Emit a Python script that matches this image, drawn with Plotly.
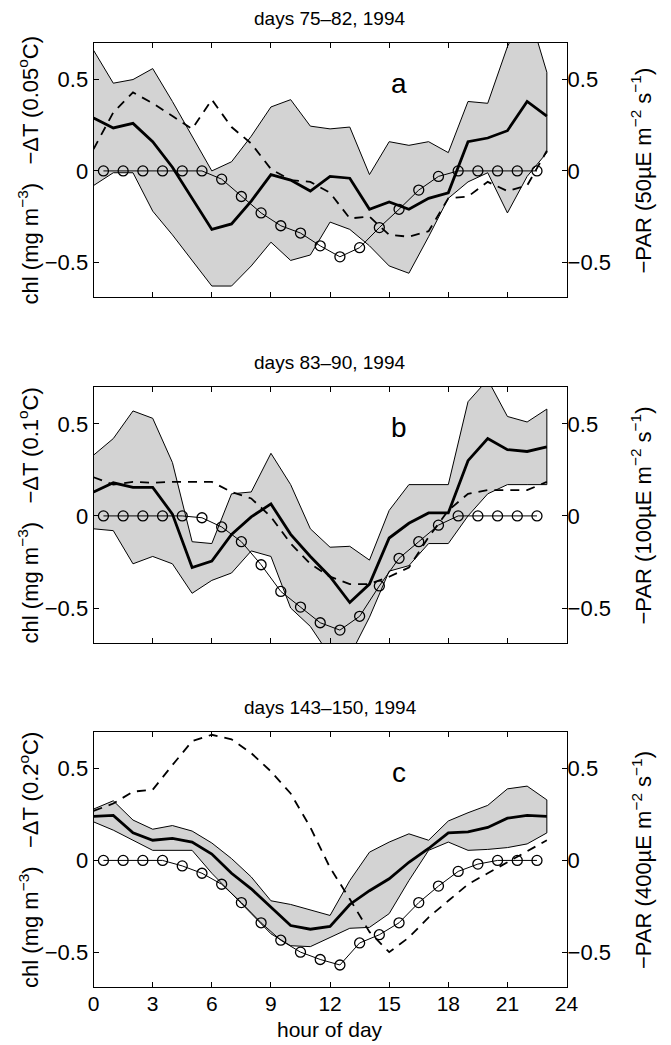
import plotly.graph_objects as go

# ---------------- data ----------------
hours = [0, 1, 2, 3, 4, 5, 6, 7, 8, 9, 10, 11, 12, 13, 14, 15, 16, 17, 18, 19, 20, 21, 22, 23]
par_hours = [0.5, 1.5, 2.5, 3.5, 4.5, 5.5, 6.5, 7.5, 8.5, 9.5, 10.5, 11.5,
             12.5, 13.5, 14.5, 15.5, 16.5, 17.5, 18.5, 19.5, 20.5, 21.5, 22.5]
x_ticks = [0, 3, 6, 9, 12, 15, 18, 21, 24]
y_ticks = [-0.5, 0, 0.5]
y_tick_text = ["\u22120.5", "0", "0.5"]

titles = ["days 75\u201382, 1994", "days 83\u201390, 1994", "days 143\u2013150, 1994"]
letters = ["a", "b", "c"]
left_titles = ["chl (mg m<sup>\u22123</sup>)   \u2212\u0394T (0.05<sup>o</sup>C)",
               "chl (mg m<sup>\u22123</sup>)   \u2212\u0394T (0.1<sup>o</sup>C)",
               "chl (mg m<sup>\u22123</sup>)   \u2212\u0394T (0.2<sup>o</sup>C)"]
right_titles = ["\u2212PAR (50\u00b5E m<sup>\u22122</sup> s<sup>\u22121</sup>)",
                "\u2212PAR (100\u00b5E m<sup>\u22122</sup> s<sup>\u22121</sup>)",
                "\u2212PAR (400\u00b5E m<sup>\u22122</sup> s<sup>\u22121</sup>)"]

# panel a
upper_a = [0.66, 0.48, 0.50, 0.56, 0.38, 0.19, 0.00, 0.05, 0.19, 0.35, 0.39, 0.245,
           0.23, 0.24, -0.02, 0.16, 0.14, 0.16, 0.10, 0.38, 0.37, 0.68, 0.90, 0.54]
lower_a = [-0.08, -0.01, -0.01, -0.22, -0.35, -0.49, -0.63, -0.63, -0.52, -0.39, -0.49, -0.46,
           -0.28, -0.32, -0.41, -0.52, -0.56, -0.36, -0.15, -0.06, -0.01, -0.23, -0.03, 0.10]
chl_a = [0.29, 0.235, 0.26, 0.16, 0.02, -0.15, -0.32, -0.29, -0.165, -0.02, -0.05, -0.11,
         -0.03, -0.04, -0.21, -0.17, -0.21, -0.15, -0.12, 0.16, 0.18, 0.22, 0.38, 0.30]
dT_a = [0.12, 0.32, 0.43, 0.37, 0.30, 0.23, 0.39, 0.24, 0.15, 0.01, -0.05, -0.06,
        -0.12, -0.26, -0.25, -0.35, -0.36, -0.33, -0.15, -0.14, -0.06, -0.11, -0.08, 0.11]
par_a = [0, 0, 0, 0, 0, 0, -0.045, -0.14, -0.23, -0.30, -0.34, -0.41,
         -0.47, -0.42, -0.31, -0.21, -0.105, -0.03, 0, 0, 0, 0, 0]

# panel b
upper_b = [0.33, 0.42, 0.57, 0.53, 0.29, -0.14, -0.15, 0.12, 0.13, 0.34, 0.17, -0.07,
           -0.17, -0.165, -0.24, 0.03, 0.17, 0.17, 0.17, 0.62, 0.74, 0.54, 0.51, 0.58]
lower_b = [-0.07, -0.08, -0.26, -0.22, -0.26, -0.42, -0.35, -0.31, -0.19, -0.22, -0.50, -0.60,
           -0.76, -0.76, -0.55, -0.30, -0.27, -0.15, -0.15, 0.00, 0.12, 0.17, 0.17, 0.17]
chl_b = [0.13, 0.18, 0.155, 0.155, 0.01, -0.28, -0.245, -0.10, -0.005, 0.065, -0.10, -0.22,
         -0.33, -0.47, -0.37, -0.12, -0.04, 0.016, 0.016, 0.30, 0.42, 0.36, 0.35, 0.375]
dT_b = [0.21, 0.17, 0.185, 0.18, 0.185, 0.185, 0.185, 0.13, 0.095, -0.005, -0.15, -0.26,
        -0.33, -0.37, -0.37, -0.33, -0.28, -0.115, 0.03, 0.12, 0.14, 0.14, 0.14, 0.185]
par_b = [0, 0, 0, 0, 0, -0.01, -0.06, -0.14, -0.265, -0.41, -0.495, -0.58,
         -0.62, -0.545, -0.38, -0.23, -0.14, -0.05, 0, 0, 0, 0, 0]

# panel c
upper_c = [0.28, 0.325, 0.22, 0.17, 0.19, 0.16, 0.095, 0.01, -0.09, -0.22, -0.24, -0.27,
           -0.30, -0.11, 0.045, 0.10, 0.145, 0.11, 0.215, 0.26, 0.30, 0.39, 0.405, 0.33]
lower_c = [0.21, 0.165, 0.11, 0.055, 0.055, 0.055, -0.07, -0.18, -0.29, -0.40, -0.465, -0.47,
           -0.42, -0.37, -0.365, -0.29, -0.11, 0.055, 0.10, 0.055, 0.06, 0.07, 0.09, 0.15]
chl_c = [0.24, 0.245, 0.15, 0.11, 0.12, 0.10, 0.035, -0.07, -0.155, -0.255, -0.355, -0.375,
         -0.36, -0.24, -0.165, -0.10, -0.01, 0.065, 0.15, 0.155, 0.18, 0.23, 0.245, 0.24]
dT_c = [0.27, 0.31, 0.375, 0.385, 0.52, 0.65, 0.685, 0.66, 0.585, 0.485, 0.365, 0.18,
        -0.04, -0.21, -0.39, -0.50, -0.42, -0.31, -0.22, -0.13, -0.07, -0.01, 0.05, 0.11]
par_c = [0, 0, 0, 0, -0.03, -0.07, -0.13, -0.23, -0.34, -0.435, -0.50, -0.54,
         -0.57, -0.45, -0.405, -0.34, -0.23, -0.14, -0.06, -0.02, 0, 0, 0]

panels = [
    (upper_a, lower_a, chl_a, dT_a, par_a),
    (upper_b, lower_b, chl_b, dT_b, par_b),
    (upper_c, lower_c, chl_c, dT_c, par_c),
]

# ---------------- layout geometry ----------------
W, H = 671, 1045
x0_px, x1_px = 90, 576
panel_px = [(43, 297), (387, 643), (732, 987)]
y_range = [-0.69, 0.70]
FONT = "Liberation Sans, Arial, Helvetica, sans-serif"
TICK_SIZE = 22
AXT_SIZE = 22

fig = go.Figure()
layout = dict(
    width=W, height=H,
    margin=dict(l=0, r=0, t=0, b=0),
    paper_bgcolor="white", plot_bgcolor="white",
    showlegend=False,
    font=dict(family=FONT, size=20, color="black"),
)
annotations = []

for i, (up, lo, chl, dT, par) in enumerate(panels):
    n = i + 1
    xa = "x" if n == 1 else f"x{n}"
    ya = "y" if n == 1 else f"y{n}"
    yr = f"y{n + 3}"
    top, bot = panel_px[i]
    dom_y = [1 - bot / H, 1 - top / H]

    # band
    fig.add_trace(go.Scatter(
        x=hours + hours[::-1], y=up + lo[::-1],
        fill="toself", fillcolor="rgb(211,211,211)",
        line=dict(color="black", width=1),
        mode="lines", xaxis=xa, yaxis=ya, hoverinfo="skip"))
    # thick chl line
    fig.add_trace(go.Scatter(
        x=hours, y=chl, mode="lines",
        line=dict(color="black", width=2.8),
        xaxis=xa, yaxis=ya))
    # dashed -dT line
    fig.add_trace(go.Scatter(
        x=hours, y=dT, mode="lines",
        line=dict(color="black", width=1.8, dash="9px,7px"),
        xaxis=xa, yaxis=ya))
    # PAR with circles (right axis)
    fig.add_trace(go.Scatter(
        x=par_hours, y=par, mode="lines+markers",
        line=dict(color="black", width=1),
        marker=dict(symbol="circle-open", size=10, color="black",
                    line=dict(width=1.3, color="black")),
        xaxis=xa, yaxis=yr))

    xkey = "xaxis" if n == 1 else f"xaxis{n}"
    ykey = "yaxis" if n == 1 else f"yaxis{n}"
    layout[xkey] = dict(
        domain=[x0_px / W, x1_px / W], range=[0, 24], anchor=ya,
        tickvals=x_ticks, showticklabels=(n == 3),
        ticks="inside", ticklen=5, tickcolor="black", tickwidth=1,
        showline=True, linecolor="black", linewidth=1, mirror="ticks",
        showgrid=False, zeroline=False,
        ticklabelposition="outside", ticklabelstandoff=-2,
        tickfont=dict(size=21, family=FONT),
    )
    layout[ykey] = dict(
        domain=dom_y, range=y_range, anchor=xa,
        tickvals=y_ticks, ticktext=y_tick_text,
        ticks="inside", ticklen=5, tickcolor="black", tickwidth=1,
        showline=True, linecolor="black", linewidth=1, mirror="ticks",
        showgrid=False, zeroline=False,
        tickfont=dict(size=TICK_SIZE, family=FONT),
    )
    layout[f"yaxis{n + 3}"] = dict(
        domain=dom_y, range=y_range, anchor=xa, overlaying=ya, side="right",
        tickvals=y_ticks, ticktext=y_tick_text,
        ticks="", showline=False, showgrid=False, zeroline=False,
        tickfont=dict(size=TICK_SIZE, family=FONT),
    )

    mid = 1 - (top + bot) / 2 / H
    annotations.append(dict(
        text=titles[i], xref="paper", yref="paper",
        x=(x0_px + x1_px) / 2 / W, y=1 - (top - 25) / H,
        xanchor="center", yanchor="middle", showarrow=False,
        font=dict(size=19, family=FONT)))
    annotations.append(dict(
        text=letters[i], xref=xa, yref=ya, x=15.5, y=0.48,
        xanchor="center", yanchor="middle", showarrow=False,
        font=dict(size=28, family=FONT)))
    annotations.append(dict(
        text=left_titles[i], xref="paper", yref="paper",
        x=23 / W, y=mid, textangle=-90,
        xanchor="center", yanchor="middle", showarrow=False,
        font=dict(size=AXT_SIZE, family=FONT)))
    annotations.append(dict(
        text=right_titles[i], xref="paper", yref="paper",
        x=653 / W, y=mid, textangle=-90,
        xanchor="center", yanchor="middle", showarrow=False,
        font=dict(size=AXT_SIZE, family=FONT)))

annotations.append(dict(
    text="hour of day", xref="paper", yref="paper",
    x=(x0_px + x1_px) / 2 / W, y=1 - 1029 / H,
    xanchor="center", yanchor="middle", showarrow=False,
    font=dict(size=21, family=FONT)))

layout["annotations"] = annotations
fig.update_layout(**layout)
fig.write_html("out.html",
               config={"displayModeBar": False},
               post_script="document.body.style.margin='0px';"
                           "document.body.style.padding='0px';")
